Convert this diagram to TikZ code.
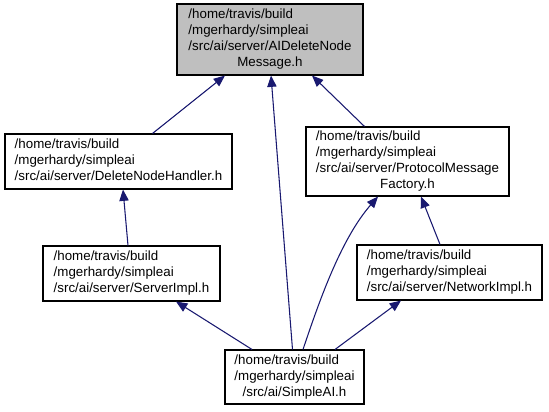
\documentclass[tikz,border=0pt]{standalone}
\usepackage{fontspec}
\setmainfont{Liberation Sans}
\usetikzlibrary{arrows.meta,calc}
\definecolor{edgeblue}{HTML}{191970}
\definecolor{boxgray}{HTML}{BFBFBF}
\tikzset{
  box/.style={draw=black, line width=0.8pt, fill=white, inner sep=0pt,
    font=\fontsize{10}{12}\selectfont},
  edge/.style={draw=edgeblue, line width=0.8pt,
    -{Triangle[length=8.5pt,width=7pt]}}
}
\newcommand{\mylines}[1]{\begin{tabular}{@{}l@{}}#1\end{tabular}}
\newcommand{\mycline}[1]{\multicolumn{1}{@{}c@{}}{#1}}
\begin{document}
\begin{tikzpicture}[x=0.75pt,y=-0.75pt]
\useasboundingbox (0,0) rectangle (549,411);
\node[box, fill=boxgray, minimum width=139.5pt, minimum height=53.25pt] (A) at (270,39.5)
  {\mylines{/home/travis/build\\/mgerhardy/simpleai\\/src/ai/server/AIDeleteNode\\\mycline{Message.h}}};
\node[box, minimum width=170.25pt, minimum height=41.25pt] (B) at (118.5,161.5)
  {\mylines{/home/travis/build\\/mgerhardy/simpleai\\/src/ai/server/DeleteNodeHandler.h}};
\node[box, minimum width=152.25pt, minimum height=51.75pt] (C) at (407.5,161.5)
  {\mylines{/home/travis/build\\/mgerhardy/simpleai\\/src/ai/server/ProtocolMessage\\\mycline{Factory.h}}};
\node[box, minimum width=132.75pt, minimum height=41.25pt] (D) at (131.5,273.5)
  {\mylines{/home/travis/build\\/mgerhardy/simpleai\\/src/ai/server/ServerImpl.h}};
\node[box, minimum width=138.75pt, minimum height=41.25pt] (E) at (449.5,272.5)
  {\mylines{/home/travis/build\\/mgerhardy/simpleai\\/src/ai/server/NetworkImpl.h}};
\node[box, minimum width=104.25pt, minimum height=40.5pt] (F) at (294.5,377)
  {\mylines{/home/travis/build\\/mgerhardy/simpleai\\\mycline{/src/ai/SimpleAI.h}}};
\draw[edge] ($(B.north)+(34,0)$) -- ($(A.south)+(-45,0)$);
\draw[edge] ($(F.north)+(-2,0)$) -- ($(A.south)+(1,0)$);
\draw[edge] ($(C.north)+(-43,0)$) -- ($(A.south)+(42,0)$);
\draw[edge] ($(D.north)+(-3.5,0)$) -- ($(B.south)+(4.5,0)$);
\draw[edge] ($(E.north)+(-9.5,0)$) -- ($(C.south)+(13.5,0)$);
\draw[edge] ($(F.north)+(8.5,0)$) .. controls (318,305) and (340,240) .. ($(C.south)+(-29.5,0)$);
\draw[edge] ($(F.north)+(-42.5,0)$) -- ($(D.south)+(44.5,0)$);
\draw[edge] ($(F.north)+(40.5,0)$) -- ($(E.south)+(-48.5,0)$);
\end{tikzpicture}
\end{document}
